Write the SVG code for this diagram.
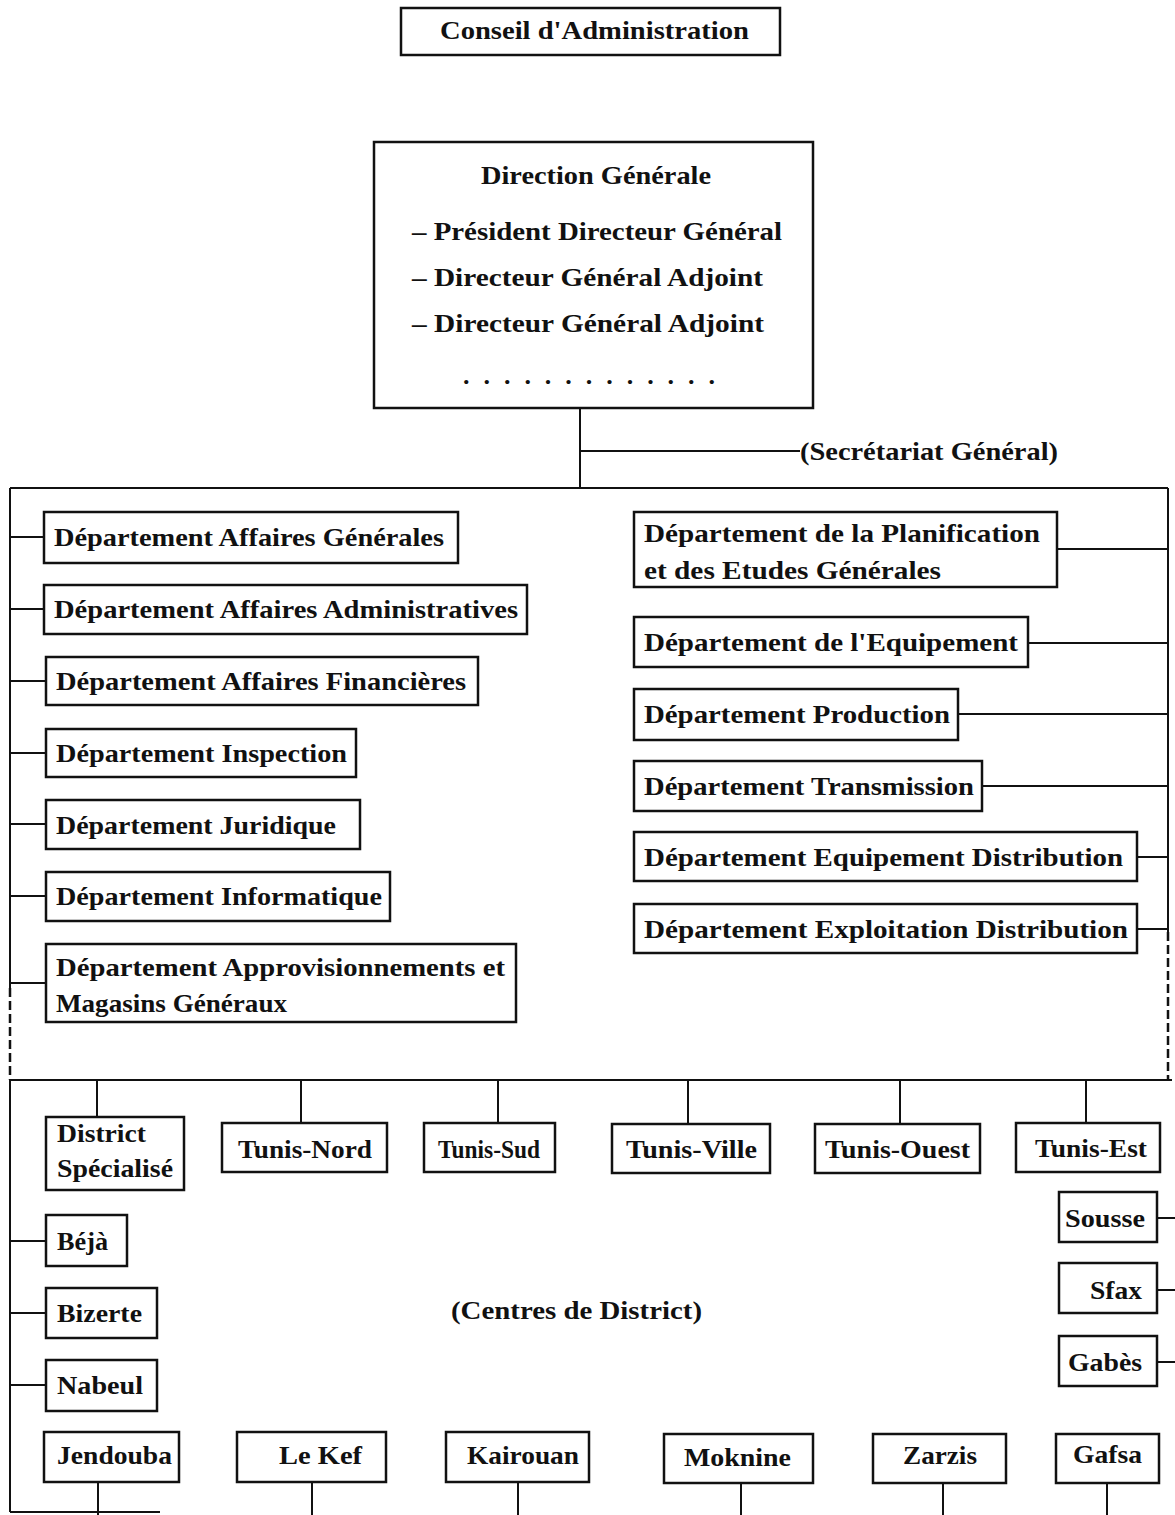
<svg xmlns="http://www.w3.org/2000/svg" width="1175" height="1515" viewBox="0 0 1175 1515">
<style>
.b{fill:#fff;stroke:#111;stroke-width:2.5}
.t{font-family:"Liberation Serif","Times New Roman",serif;font-weight:bold;font-size:26px;fill:#111}
.c{fill:none;stroke:#111;stroke-width:2}
.d{fill:none;stroke:#111;stroke-width:2.5;stroke-dasharray:9 4}
</style>
<rect width="1175" height="1515" fill="#fff"/>
<g id="connectors">
<path class="c" d="M580 408V488M580 451H800"/>
<path class="c" d="M10 488H1168M10 488V988M1168 488V932"/>
<path class="d" d="M10 988V1080M1168 932V1080"/>
<path class="c" d="M10 537H44M10 609H44M10 681H46M10 753H46M10 824H46M10 896H46M10 983H46"/>
<path class="c" d="M1057 549H1168M1028 643H1168M958 714H1168M982 786H1168M1137 857H1168M1137 929H1168"/>
<path class="c" d="M10 1080H1172M10 1080V1512M10 1512H160"/>
<path class="c" d="M97 1080V1117M301 1080V1123M498 1080V1123M688 1080V1124M900 1080V1124M1086 1080V1123"/>
<path class="c" d="M10 1241H46M10 1313H46M10 1385H46"/>
<path class="c" d="M1157 1218H1175M1157 1290H1175M1157 1362H1175"/>
<path class="c" d="M98 1482V1515M312 1482V1515M518 1482V1515M741 1483V1515M943 1483V1515M1107 1483V1515"/>
</g>
<g id="conseil"><rect class="b" x="401" y="8" width="379" height="47"/><text class="t" x="440" y="39" textLength="309" lengthAdjust="spacingAndGlyphs">Conseil d'Administration</text></g>
<g id="direction"><rect class="b" x="374" y="142" width="439" height="266"/>
<text class="t" x="481" y="184" textLength="230" lengthAdjust="spacingAndGlyphs">Direction Générale</text>
<text class="t" x="412" y="240" textLength="370" lengthAdjust="spacingAndGlyphs">– Président Directeur Général</text>
<text class="t" x="412" y="286" textLength="351" lengthAdjust="spacingAndGlyphs">– Directeur Général Adjoint</text>
<text class="t" x="412" y="332" textLength="352" lengthAdjust="spacingAndGlyphs">– Directeur Général Adjoint</text>
<text class="t" x="463" y="384" textLength="252" lengthAdjust="spacing">. . . . . . . . . . . . .</text>
</g>
<g id="secretariat"><text class="t" x="800" y="460" textLength="258" lengthAdjust="spacingAndGlyphs">(Secrétariat Général)</text></g>
<g id="dept-ag"><rect class="b" x="44" y="512" width="414" height="51"/><text class="t" x="54" y="546" textLength="390" lengthAdjust="spacingAndGlyphs">Département Affaires Générales</text></g>
<g id="dept-aa"><rect class="b" x="44" y="585" width="483" height="49"/><text class="t" x="54" y="618" textLength="464" lengthAdjust="spacingAndGlyphs">Département Affaires Administratives</text></g>
<g id="dept-af"><rect class="b" x="46" y="657" width="432" height="48"/><text class="t" x="56" y="690" textLength="410" lengthAdjust="spacingAndGlyphs">Département Affaires Financières</text></g>
<g id="dept-insp"><rect class="b" x="46" y="729" width="310" height="48"/><text class="t" x="56" y="762" textLength="291" lengthAdjust="spacingAndGlyphs">Département Inspection</text></g>
<g id="dept-jur"><rect class="b" x="46" y="800" width="314" height="49"/><text class="t" x="56" y="834" textLength="280" lengthAdjust="spacingAndGlyphs">Département Juridique</text></g>
<g id="dept-info"><rect class="b" x="46" y="872" width="344" height="49"/><text class="t" x="56" y="905" textLength="326" lengthAdjust="spacingAndGlyphs">Département Informatique</text></g>
<g id="dept-appro"><rect class="b" x="46" y="944" width="470" height="78"/><text class="t" x="56" y="976" textLength="449" lengthAdjust="spacingAndGlyphs">Département Approvisionnements et</text><text class="t" x="56" y="1012" textLength="231" lengthAdjust="spacingAndGlyphs">Magasins Généraux</text></g>
<g id="dept-plan"><rect class="b" x="634" y="512" width="423" height="75"/><text class="t" x="644" y="542" textLength="396" lengthAdjust="spacingAndGlyphs">Département de la Planification</text><text class="t" x="644" y="579" textLength="297" lengthAdjust="spacingAndGlyphs">et des Etudes Générales</text></g>
<g id="dept-equip"><rect class="b" x="634" y="617" width="394" height="50"/><text class="t" x="644" y="651" textLength="374" lengthAdjust="spacingAndGlyphs">Département de l'Equipement</text></g>
<g id="dept-prod"><rect class="b" x="634" y="689" width="324" height="51"/><text class="t" x="644" y="723" textLength="306" lengthAdjust="spacingAndGlyphs">Département Production</text></g>
<g id="dept-trans"><rect class="b" x="634" y="761" width="348" height="50"/><text class="t" x="644" y="795" textLength="330" lengthAdjust="spacingAndGlyphs">Département Transmission</text></g>
<g id="dept-eqd"><rect class="b" x="634" y="832" width="503" height="49"/><text class="t" x="644" y="866" textLength="479" lengthAdjust="spacingAndGlyphs">Département Equipement Distribution</text></g>
<g id="dept-exd"><rect class="b" x="634" y="904" width="503" height="49"/><text class="t" x="644" y="938" textLength="484" lengthAdjust="spacingAndGlyphs">Département Exploitation Distribution</text></g>
<g id="district-spec"><rect class="b" x="46" y="1117" width="138" height="73"/><text class="t" x="57" y="1142" textLength="89" lengthAdjust="spacingAndGlyphs">District</text><text class="t" x="57" y="1177" textLength="116" lengthAdjust="spacingAndGlyphs">Spécialisé</text></g>
<g id="tunis-nord"><rect class="b" x="222" y="1123" width="165" height="49"/><text class="t" x="238" y="1158" textLength="134" lengthAdjust="spacingAndGlyphs">Tunis-Nord</text></g>
<g id="tunis-sud"><rect class="b" x="424" y="1123" width="131" height="49"/><text class="t" x="438" y="1158" textLength="102" lengthAdjust="spacingAndGlyphs">Tunis-Sud</text></g>
<g id="tunis-ville"><rect class="b" x="612" y="1124" width="158" height="49"/><text class="t" x="626" y="1158" textLength="131" lengthAdjust="spacingAndGlyphs">Tunis-Ville</text></g>
<g id="tunis-ouest"><rect class="b" x="815" y="1124" width="165" height="49"/><text class="t" x="825" y="1158" textLength="145" lengthAdjust="spacingAndGlyphs">Tunis-Ouest</text></g>
<g id="tunis-est"><rect class="b" x="1016" y="1123" width="144" height="49"/><text class="t" x="1035" y="1157" textLength="112" lengthAdjust="spacingAndGlyphs">Tunis-Est</text></g>
<g id="beja"><rect class="b" x="46" y="1215" width="81" height="51"/><text class="t" x="57" y="1250" textLength="51" lengthAdjust="spacingAndGlyphs">Béjà</text></g>
<g id="bizerte"><rect class="b" x="46" y="1288" width="111" height="50"/><text class="t" x="57" y="1322" textLength="85" lengthAdjust="spacingAndGlyphs">Bizerte</text></g>
<g id="nabeul"><rect class="b" x="46" y="1360" width="111" height="51"/><text class="t" x="57" y="1394" textLength="86" lengthAdjust="spacingAndGlyphs">Nabeul</text></g>
<g id="jendouba"><rect class="b" x="44" y="1432" width="135" height="50"/><text class="t" x="57" y="1464" textLength="115" lengthAdjust="spacingAndGlyphs">Jendouba</text></g>
<g id="lekef"><rect class="b" x="237" y="1432" width="149" height="50"/><text class="t" x="279" y="1464" textLength="83" lengthAdjust="spacingAndGlyphs">Le Kef</text></g>
<g id="kairouan"><rect class="b" x="446" y="1432" width="143" height="50"/><text class="t" x="467" y="1464" textLength="112" lengthAdjust="spacingAndGlyphs">Kairouan</text></g>
<g id="moknine"><rect class="b" x="664" y="1434" width="149" height="49"/><text class="t" x="684" y="1466" textLength="107" lengthAdjust="spacingAndGlyphs">Moknine</text></g>
<g id="zarzis"><rect class="b" x="873" y="1434" width="133" height="49"/><text class="t" x="903" y="1464" textLength="74" lengthAdjust="spacingAndGlyphs">Zarzis</text></g>
<g id="gafsa"><rect class="b" x="1056" y="1434" width="103" height="49"/><text class="t" x="1073" y="1463" textLength="69" lengthAdjust="spacingAndGlyphs">Gafsa</text></g>
<g id="sousse"><rect class="b" x="1059" y="1192" width="98" height="50"/><text class="t" x="1065" y="1227" textLength="80" lengthAdjust="spacingAndGlyphs">Sousse</text></g>
<g id="sfax"><rect class="b" x="1059" y="1263" width="98" height="50"/><text class="t" x="1090" y="1299" textLength="52" lengthAdjust="spacingAndGlyphs">Sfax</text></g>
<g id="gabes"><rect class="b" x="1059" y="1336" width="98" height="50"/><text class="t" x="1068" y="1371" textLength="74" lengthAdjust="spacingAndGlyphs">Gabès</text></g>
<g id="centres"><text class="t" x="451" y="1319" textLength="251" lengthAdjust="spacingAndGlyphs">(Centres de District)</text></g>
</svg>
